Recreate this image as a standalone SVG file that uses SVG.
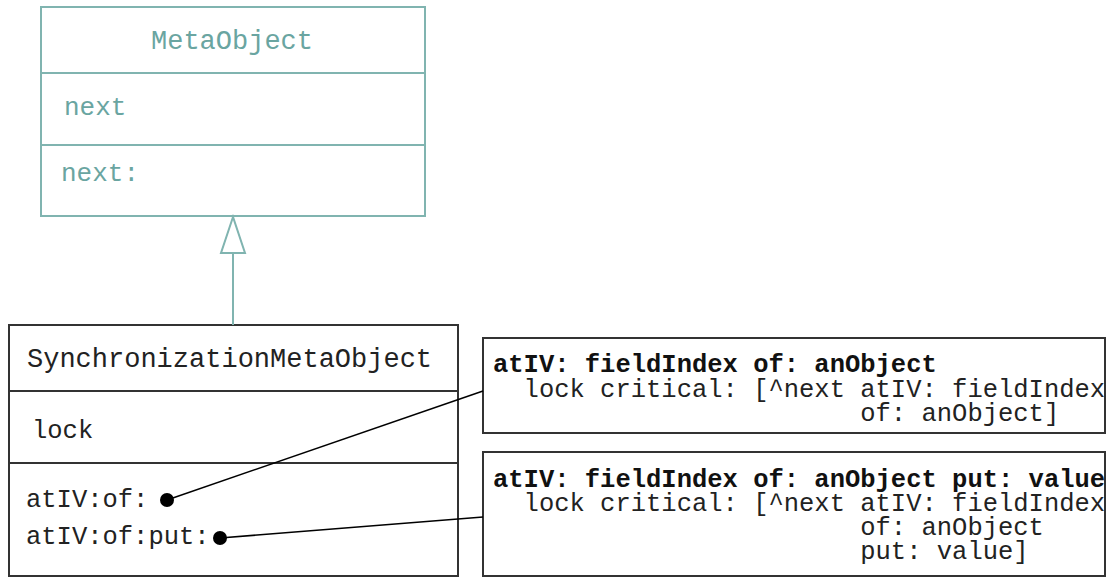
<svg xmlns="http://www.w3.org/2000/svg" width="1112" height="577" viewBox="0 0 1112 577">
<style>
.teal{fill:none;stroke:#80b4b0;stroke-width:2}
.tt{font-family:"Liberation Mono",monospace;font-size:26px;fill:#6aa5a1}
.blk{fill:none;stroke:#333;stroke-width:2}
.bt{font-family:"Liberation Mono",monospace;font-size:25.5px;fill:#222}
.nt{font-family:"Liberation Mono",monospace;font-size:25.5px;fill:#222}
.nb{font-weight:bold;fill:#111}
.conn{stroke:#000;stroke-width:1.5;fill:none}
</style>
<rect width="1112" height="577" fill="#fff"/>
<g id="MetaObject">
<rect class="teal" x="41" y="7" width="384" height="209"/>
<line class="teal" x1="41" y1="73" x2="425" y2="73"/>
<line class="teal" x1="41" y1="145" x2="425" y2="145"/>
<text class="tt" x="232" y="49" text-anchor="middle" style="font-size:27px">MetaObject</text>
<text class="tt" x="64" y="115">next</text>
<text class="tt" x="61" y="181">next:</text>
</g>
<g id="SynchronizationMetaObject">
<rect class="blk" x="9" y="325" width="449" height="251"/>
<line class="blk" x1="9" y1="391" x2="458" y2="391"/>
<line class="blk" x1="9" y1="463" x2="458" y2="463"/>
<text class="bt" x="27" y="367" style="font-size:27px">SynchronizationMetaObject</text>
<text class="bt" x="32" y="438">lock</text>
<text class="bt" x="26" y="507">atIV:of:</text>
<text class="bt" x="26" y="544">atIV:of:put:</text>
</g>
<g id="note1">
<rect class="blk" x="483" y="338" width="622" height="95"/>
<text class="nt" x="493" y="372"><tspan class="nb">atIV: fieldIndex of: anObject</tspan></text>
<text class="nt" x="493" y="397" xml:space="preserve">  lock critical: [^next atIV: fieldIndex</text>
<text class="nt" x="493" y="421" xml:space="preserve">                        of: anObject]</text>
</g>
<g id="note2">
<rect class="blk" x="483" y="452" width="622" height="124"/>
<text class="nt" x="493" y="487"><tspan class="nb">atIV: fieldIndex of: anObject put: value</tspan></text>
<text class="nt" x="493" y="511" xml:space="preserve">  lock critical: [^next atIV: fieldIndex</text>
<text class="nt" x="493" y="535" xml:space="preserve">                        of: anObject</text>
<text class="nt" x="493" y="559" xml:space="preserve">                        put: value]</text>
</g>
<g id="connectors">
<line class="teal" x1="233" y1="253" x2="233" y2="325"/>
<polygon points="233,217 221,253 245,253" fill="#fff" stroke="#80b4b0" stroke-width="2"/>
<line class="conn" x1="167" y1="500" x2="483" y2="391"/>
<line class="conn" x1="220" y1="538" x2="483" y2="517"/>
<circle cx="167" cy="500" r="7" fill="#000"/>
<circle cx="220" cy="538" r="7" fill="#000"/>
</g>
</svg>
